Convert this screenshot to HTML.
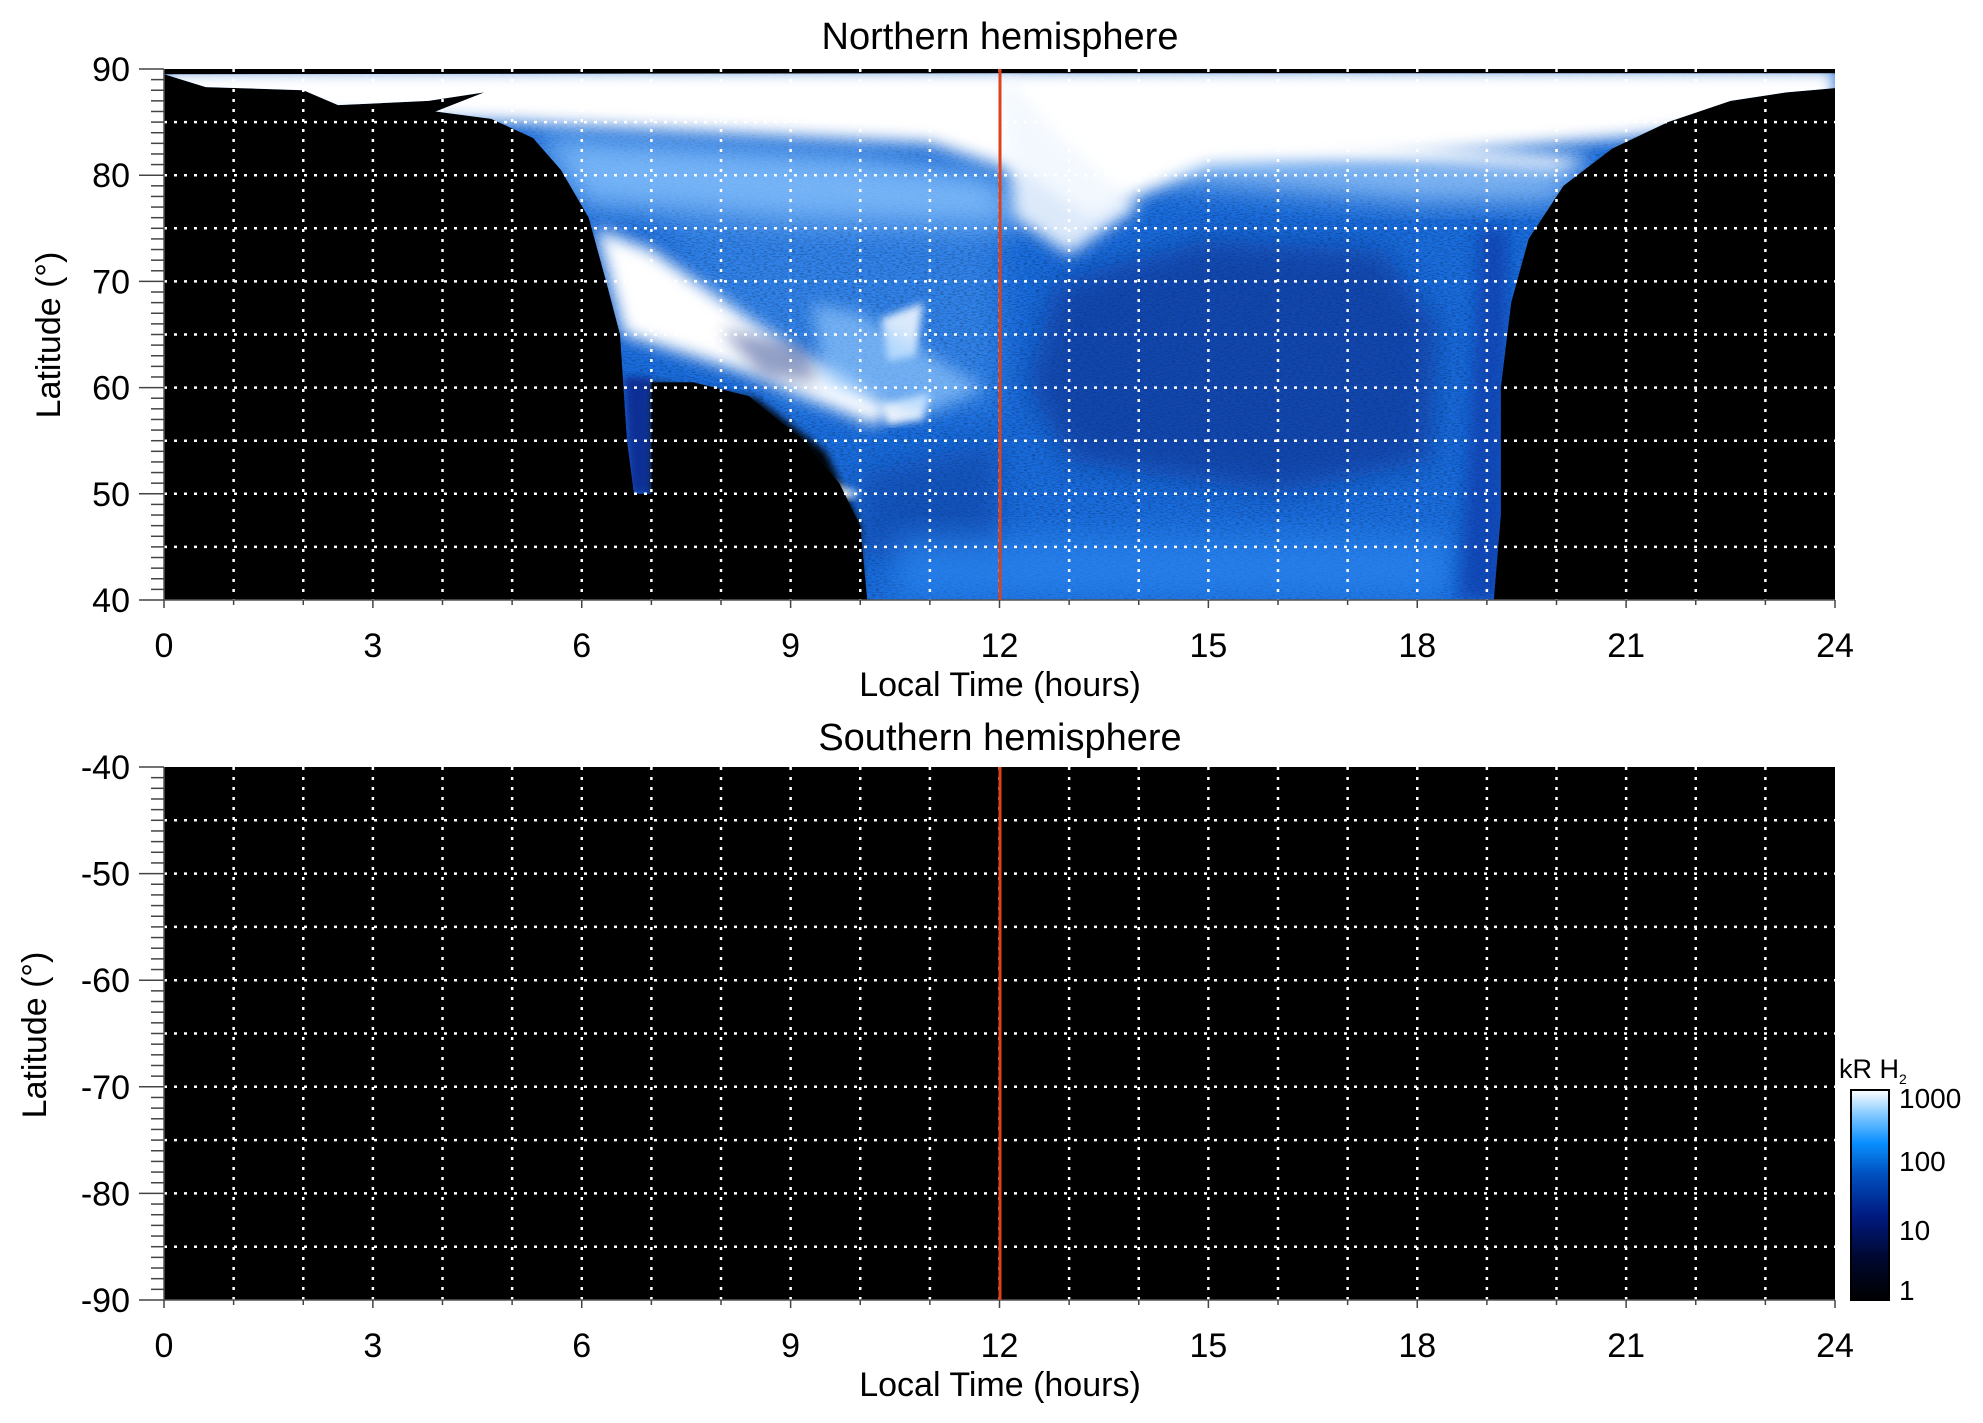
<!DOCTYPE html>
<html><head><meta charset="utf-8"><style>
html,body{margin:0;padding:0;background:#fff;width:1983px;height:1423px;overflow:hidden}
svg text{font-family:"Liberation Sans",Arial,sans-serif;fill:#000}
</style></head><body>
<svg id="s" width="1983" height="1423" viewBox="0 0 1983 1423" xmlns="http://www.w3.org/2000/svg">
<defs>
<linearGradient id="cb" x1="0" y1="1" x2="0" y2="0">
<stop offset="0" stop-color="#000"/>
<stop offset="0.2" stop-color="#000830"/>
<stop offset="0.4" stop-color="#001a80"/>
<stop offset="0.6" stop-color="#0050c0"/>
<stop offset="0.75" stop-color="#0a90ff"/>
<stop offset="0.88" stop-color="#80c8ff"/>
<stop offset="1" stop-color="#ffffff"/>
</linearGradient>
<filter id="b8" x="-30%" y="-30%" width="160%" height="160%"><feGaussianBlur stdDeviation="8"/></filter>
<filter id="b4"><feGaussianBlur stdDeviation="4"/></filter>
<filter id="b15" x="-30%" y="-30%" width="160%" height="160%"><feGaussianBlur stdDeviation="15"/></filter>
<filter id="nz" x="0" y="0" width="1" height="1">
<feTurbulence type="fractalNoise" baseFrequency="0.25 0.9" numOctaves="2" seed="3"/>
<feColorMatrix type="matrix" values="0 0 0 0 0  0 0 0 0 0  0 0 0 0 0  0 0 0 -2.2 1.25"/>
</filter>
<clipPath id="reg"><path id="regp"/></clipPath>
<clipPath id="top"><rect x="164" y="69" width="1671" height="531"/></clipPath>
</defs>
<rect x="164" y="69" width="1671" height="531" fill="#000"/>
<g clip-path="url(#top)"><g clip-path="url(#reg)" id="aur"></g></g>
<rect x="164" y="767" width="1671" height="533" fill="#000"/>
<g id="grid"></g>
<line x1="1000" y1="69" x2="1000" y2="600" stroke="#e0401a" stroke-width="3"/>
<line x1="1000" y1="767" x2="1000" y2="1300" stroke="#e0401a" stroke-width="3"/>
<text x="1000" y="49" font-size="38" text-anchor="middle">Northern hemisphere</text>
<text x="1000" y="750" font-size="38" text-anchor="middle">Southern hemisphere</text>
<text x="1000" y="696" font-size="34" text-anchor="middle">Local Time (hours)</text>
<text x="1000" y="1396" font-size="34" text-anchor="middle">Local Time (hours)</text>
<text transform="translate(60,335) rotate(-90)" font-size="34" text-anchor="middle">Latitude (°)</text>
<text transform="translate(46,1035) rotate(-90)" font-size="34" text-anchor="middle">Latitude (°)</text>
<rect x="1851" y="1090" width="38" height="210" fill="url(#cb)" stroke="#000" stroke-width="2"/>
<text x="1839" y="1078" font-size="27">kR H<tspan font-size="14" dy="6">2</tspan></text>
<text x="1899" y="1108" font-size="28">1000</text>
<text x="1899" y="1171" font-size="28">100</text>
<text x="1899" y="1240" font-size="28">10</text>
<text x="1899" y="1300" font-size="28">1</text>
</svg>
<script>
const NS="http://www.w3.org/2000/svg";
const X=h=>164+1671*h/24, Y=l=>69+(90-l)*10.62, Y2=l=>767+(-40-l)*10.66;
function el(p,t,a){const e=document.createElementNS(NS,t);for(const k in a)e.setAttribute(k,a[k]);p.appendChild(e);return e;}
const g=document.getElementById('grid'), s=document.getElementById('s');
function axes(y0,y1,Yf,lats){
  for(let h=1;h<24;h++) el(g,'line',{x1:X(h),y1:y0,x2:X(h),y2:y1,stroke:'#fff','stroke-width':2.5,'stroke-dasharray':'3 7'});
  for(const l of lats) el(g,'line',{x1:164,y1:Yf(l),x2:1835,y2:Yf(l),stroke:'#fff','stroke-width':2.5,'stroke-dasharray':'3 7'});
  el(g,'line',{x1:164,y1:y1,x2:1835,y2:y1,stroke:'#555','stroke-width':1.5});
  el(g,'line',{x1:164,y1:y0,x2:164,y2:y1,stroke:'#555','stroke-width':1.5});
  for(let h=0;h<=24;h++){const M=h%3==0;el(g,'line',{x1:X(h),y1:y1,x2:X(h),y2:y1+(M?8:5),stroke:'#444','stroke-width':1.5});
    if(M) el(s,'text',{x:X(h),y:y1+57,'font-size':34,'text-anchor':'middle'}).textContent=h;}
}
axes(69,600,Y,[85,80,75,70,65,60,55,50,45]);
axes(767,1300,Y2,[-45,-50,-55,-60,-65,-70,-75,-80,-85]);
for(let l=40;l<=90;l++){const M=l%10==0;el(g,'line',{x1:M?139:151,y1:Y(l),x2:164,y2:Y(l),stroke:'#444','stroke-width':1.5});
 if(M) el(s,'text',{x:130,y:Y(l)+12,'font-size':34,'text-anchor':'end'}).textContent=l;}
for(let l=-90;l<=-40;l++){const M=l%10==0;el(g,'line',{x1:M?139:151,y1:Y2(l),x2:164,y2:Y2(l),stroke:'#444','stroke-width':1.5});
 if(M) el(s,'text',{x:130,y:Y2(l)+12,'font-size':34,'text-anchor':'end'}).textContent=l;}
const pts=[[0,89.5],[0.6,88.3],[2,88],[2.5,86.6],[3.8,87],[4.6,87.8],[3.9,86],[4.7,85.3],[5.3,83.5],[5.7,80.5],[6.1,76],[6.35,70],[6.55,65],[6.6,60],[6.65,55],[6.75,50],[7,50],[7,60.5],[7.6,60.5],[8.4,59.2],[9.2,55],[9.7,51],[10,47],[10.1,40],[19.1,40],[19.2,48],[19.2,60],[19.35,68],[19.6,74],[20.1,79],[20.8,82.5],[21.6,85],[22.5,87],[23.3,87.8],[24,88.2],[24,89.6],[12,89.6]];
document.getElementById('regp').setAttribute('d','M'+pts.map(p=>X(p[0]).toFixed(1)+','+Y(p[1]).toFixed(1)).join('L')+'Z');
const a=document.getElementById('aur');
el(a,'rect',{x:164,y:69,width:1671,height:531,fill:'#1a6ee0'});
function poly(ps,fill,op,f){return el(a,'path',{d:'M'+ps.map(p=>X(p[0])+','+Y(p[1])).join('L')+'Z',fill:fill,opacity:op,filter:f?`url(#${f})`:''});}
poly([[7,76],[12,76],[12,58],[9,58]],'#3a8cf0',0.7,'b15');
el(a,'rect',{x:164,y:69,width:1671,height:531,fill:'#000',filter:'url(#nz)',opacity:0.35});
poly([[12.8,70],[15,74],[17.5,73],[18.3,66],[18.2,53],[16,50],[13,53],[12.4,60]],'#0a2f8c',0.6,'b15');
poly([[10,52],[12,55],[12,44],[10,44]],'#0a3a9a',0.5,'b15');
poly([[10.5,40],[18.5,40],[18.5,46],[10.5,46]],'#2a86f0',0.7,'b15');
poly([[6.6,61],[7,61],[7,50],[6.7,50]],'#0a2a90',0.9,'b4');
poly([[18.6,40],[19.3,40],[19.3,75],[18.9,75]],'#0a3aa8',0.7,'b8');
poly([[7,60.5],[8.5,59],[9.5,54],[10,47],[10,40],[7,40]],'#000',1,'b4');
poly([[5.3,84],[10,82],[12,80],[12.3,75],[9,75.5],[6,77]],'#8cc6ff',0.8,'b15');
poly([[13.5,80],[18,77.5],[20,77.5],[20.5,81],[15,83]],'#a8d4ff',0.75,'b15');
poly([[0,90],[24,90],[24,86],[21,83.5],[18,82],[15,81],[13.3,76],[12.4,80],[11,83],[8,84],[5,85],[0,86]],'#fff',1,'b8');
poly([[12,90],[12.2,76],[13,72.5],[14,77],[12.8,84]],'#f2f8ff',0.9,'b8');
poly([[14,83],[20,80.5],[20.5,81.5],[15,84.5]],'#fff',0.95,'b8');
poly([[6.2,75],[7,73],[8.5,66],[10.5,58],[10.2,56.5],[8.3,61.5],[6.6,65]],'#fff',1,'b8');
poly([[9,52.5],[10,50],[9.8,49.5],[8.8,52]],'#fff',0.9,'b4');
poly([[10.3,66.5],[10.9,68],[10.8,63],[10.4,62.5]],'#eef6ff',0.9,'b4');
poly([[10.3,58.5],[11,59.5],[10.9,57],[10.4,56.5]],'#fff',0.9,'b4');
poly([[9.3,68],[10,67],[11.8,60],[11,57.5],[9.5,60]],'#9ccfff',0.6,'b8');
poly([[8,65.5],[9.2,64],[9.4,60.5],[8.6,61]],'#0a2a80',0.45,'b8');
el(a,'rect',{x:164,y:69,width:1671,height:4,fill:'#000'});
</script>
</body></html>
